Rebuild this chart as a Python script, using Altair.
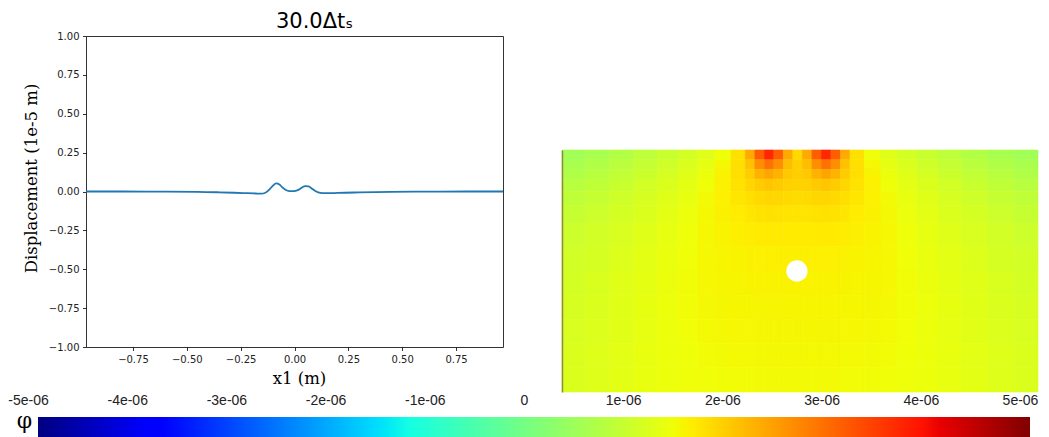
import altair as alt
import pandas as pd

# ---------------- left panel: displacement profile ----------------
X1 = [-0.968, -0.8, -0.6, -0.45, -0.35, -0.28, -0.22, -0.18, -0.155, -0.135,
      -0.115, -0.1, -0.085, -0.07, -0.055, -0.04, -0.025, -0.01, 0.005, 0.02,
      0.035, 0.05, 0.065, 0.08, 0.095, 0.11, 0.13, 0.16, 0.2, 0.3, 0.45, 0.6,
      0.8, 0.968]
DISP = [0.0, 0.0, -0.001, -0.002, -0.005, -0.008, -0.011, -0.013, -0.014, -0.008,
        0.015, 0.038, 0.052, 0.045, 0.025, 0.01, 0.003, 0.002, 0.004, 0.012,
        0.026, 0.035, 0.033, 0.02, 0.005, -0.006, -0.011, -0.011, -0.009, -0.006,
        -0.003, -0.001, 0.0, 0.0]
XLIM = [-0.968, 0.968]
YLIM = [-1.0, 1.0]
XTICKS = [-0.75, -0.5, -0.25, 0.0, 0.25, 0.5, 0.75]
YTICKS = [-1.0, -0.75, -0.5, -0.25, 0.0, 0.25, 0.5, 0.75, 1.0]
TITLE = "30.0\u0394t\u209b"
XLABEL = "x1 (m)"
YLABEL = "Displacement (1e-5 m)"

# ---------------- right panel: field phi (units of 1e-6) ----------------
FIELD_XLIM = [-1.0, 1.0]
FIELD_YLIM = [-1.0, 0.0]
X_EDGES = [-1.0, -0.9, -0.8, -0.7, -0.6, -0.51, -0.43, -0.36, -0.29, -0.23, -0.19,
           -0.15, -0.11, -0.07, -0.03, 0.01, 0.05, 0.09, 0.13, 0.17, 0.21, 0.27,
           0.34, 0.41, 0.49, 0.58, 0.68, 0.79, 0.9, 1.0]
Y_EDGES = [0.0, -0.04, -0.08, -0.12, -0.17, -0.23, -0.3, -0.4, -0.5, -0.6, -0.7,
           -0.8, -0.9, -1.0]
PHI_ROWS = [
    [0.45, 0.55, 0.67, 0.80, 0.93, 1.06, 1.20, 1.40, 1.72, 2.30, 3.10, 3.70, 3.10, 2.30, 1.80,
     2.30, 3.10, 3.70, 3.10, 2.30, 1.72, 1.40, 1.20, 1.06, 0.93, 0.80, 0.67, 0.55, 0.45],
    [0.55, 0.64, 0.76, 0.88, 1.01, 1.14, 1.28, 1.47, 1.74, 2.05, 2.60, 2.90, 2.60, 2.10, 1.90,
     2.10, 2.60, 2.90, 2.60, 2.05, 1.74, 1.47, 1.28, 1.14, 1.01, 0.88, 0.76, 0.64, 0.55],
    [0.64, 0.73, 0.84, 0.96, 1.08, 1.21, 1.35, 1.52, 1.74, 1.94, 2.20, 2.35, 2.20, 1.98, 1.92,
     1.98, 2.20, 2.35, 2.20, 1.94, 1.74, 1.52, 1.35, 1.21, 1.08, 0.96, 0.84, 0.73, 0.64],
    [0.73, 0.82, 0.92, 1.04, 1.15, 1.27, 1.40, 1.55, 1.70, 1.83, 1.94, 2.00, 1.95, 1.89, 1.86,
     1.89, 1.95, 2.00, 1.94, 1.83, 1.70, 1.55, 1.40, 1.27, 1.15, 1.04, 0.92, 0.82, 0.73],
    [0.82, 0.90, 1.00, 1.10, 1.21, 1.32, 1.44, 1.55, 1.66, 1.74, 1.80, 1.83, 1.82, 1.79, 1.77,
     1.79, 1.82, 1.83, 1.80, 1.74, 1.66, 1.55, 1.44, 1.32, 1.21, 1.10, 1.00, 0.90, 0.82],
    [0.90, 0.98, 1.07, 1.16, 1.26, 1.36, 1.46, 1.54, 1.60, 1.66, 1.70, 1.72, 1.71, 1.69, 1.68,
     1.69, 1.71, 1.72, 1.70, 1.66, 1.60, 1.54, 1.46, 1.36, 1.26, 1.16, 1.07, 0.98, 0.90],
    [0.97, 1.04, 1.12, 1.21, 1.30, 1.39, 1.47, 1.52, 1.56, 1.59, 1.61, 1.62, 1.62, 1.61, 1.61,
     1.61, 1.62, 1.62, 1.61, 1.59, 1.56, 1.52, 1.47, 1.39, 1.30, 1.21, 1.12, 1.04, 0.97],
    [1.03, 1.09, 1.17, 1.25, 1.33, 1.41, 1.47, 1.50, 1.52, 1.54, 1.55, 1.56, 1.56, 1.56, 1.56,
     1.56, 1.56, 1.56, 1.55, 1.54, 1.52, 1.50, 1.47, 1.41, 1.33, 1.25, 1.17, 1.09, 1.03],
    [1.07, 1.13, 1.20, 1.28, 1.35, 1.42, 1.47, 1.49, 1.50, 1.51, 1.52, 1.52, 1.52, 1.52, 1.52,
     1.52, 1.52, 1.52, 1.52, 1.51, 1.50, 1.49, 1.47, 1.42, 1.35, 1.28, 1.20, 1.13, 1.07],
    [1.10, 1.15, 1.22, 1.29, 1.36, 1.42, 1.46, 1.48, 1.49, 1.49, 1.50, 1.50, 1.50, 1.50, 1.50,
     1.50, 1.50, 1.50, 1.50, 1.49, 1.49, 1.48, 1.46, 1.42, 1.36, 1.29, 1.22, 1.15, 1.10],
    [1.12, 1.17, 1.23, 1.30, 1.36, 1.41, 1.45, 1.46, 1.47, 1.47, 1.48, 1.48, 1.48, 1.48, 1.48,
     1.48, 1.48, 1.48, 1.48, 1.47, 1.47, 1.46, 1.45, 1.41, 1.36, 1.30, 1.23, 1.17, 1.12],
    [1.14, 1.18, 1.24, 1.31, 1.36, 1.40, 1.43, 1.44, 1.45, 1.45, 1.46, 1.46, 1.46, 1.46, 1.46,
     1.46, 1.46, 1.46, 1.46, 1.45, 1.45, 1.44, 1.43, 1.40, 1.36, 1.31, 1.24, 1.18, 1.14],
    [1.15, 1.19, 1.25, 1.31, 1.36, 1.39, 1.41, 1.42, 1.43, 1.43, 1.44, 1.44, 1.44, 1.44, 1.44,
     1.44, 1.44, 1.44, 1.44, 1.43, 1.43, 1.42, 1.41, 1.39, 1.36, 1.31, 1.25, 1.19, 1.15],
]
HOLE_X = [-0.013]
HOLE_Y = [-0.5]

# ---------------- colour bar ----------------
CBAR_LIMITS = [-5.0, 5.0]          # units of 1e-6
CBAR_TICKS = [-5, -4, -3, -2, -1, 0, 1, 2, 3, 4, 5]
CBAR_TITLE = "\u03c6"
JET_T = [0.0, 0.11, 0.125, 0.34, 0.35, 0.375, 0.64, 0.65, 0.66, 0.89, 0.91, 1.0]
JET_COLORS = ["#000080", "#0000ff", "#0000ff", "#00dbff", "#00e6f7", "#15ffe2",
              "#efff08", "#f7f500", "#ffec00", "#ff1300", "#e80000", "#800000"]

# ---------------- layout (pixels inside the view) ----------------
W, H = 1033, 429
L_XR, L_YR = [78, 495], [339, 28]
F_XR, F_YR = [554, 1030], [384, 142]
C_XR, C_YR = [30, 1022], [431, 409]

line_df = pd.DataFrame({"x1": X1, "disp": DISP})
frame_df = pd.DataFrame({"fx": XLIM, "fy": YLIM})
cells = []
for j, row in enumerate(PHI_ROWS):
    for i, v in enumerate(row):
        cells.append({"x0": X_EDGES[i], "x1": X_EDGES[i + 1],
                      "y0": Y_EDGES[j], "y1": Y_EDGES[j + 1], "phi": v})
cell_df = pd.DataFrame(cells)
hole_df = pd.DataFrame({"hx": HOLE_X, "hy": HOLE_Y})
cbar_df = pd.DataFrame({"lo": [CBAR_LIMITS[0]], "hi": [CBAR_LIMITS[1]], "b": [0.0], "t": [1.0]})

color_domain = [CBAR_LIMITS[0] + (CBAR_LIMITS[1] - CBAR_LIMITS[0]) * t for t in JET_T]
phi_scale = alt.Scale(domain=color_domain, range=JET_COLORS, interpolate="rgb")

tick_style = dict(tickSize=3.5, tickWidth=0.8, tickColor="black", domainColor="black",
                  domainWidth=0.8, labelFont="DejaVu Sans", labelFontSize=10,
                  labelColor="#222222", labelPadding=3.5, grid=False, labelFlush=False,
                  labelOverlap=False, titleFont="DejaVu Serif", titleFontSize=16.5,
                  titleFontWeight="normal", titleColor="black")

line = alt.Chart(line_df).mark_line(color="#1f77b4", strokeWidth=1.8, interpolate="monotone").encode(
    x=alt.X("x1:Q", scale=alt.Scale(domain=XLIM, range=L_XR, nice=False, zero=False),
            axis=alt.Axis(orient="bottom", offset=L_YR[0] - H, values=XTICKS, format=".2f",
                          title=XLABEL, titlePadding=6, titleX=291, **tick_style)),
    y=alt.Y("disp:Q", scale=alt.Scale(domain=YLIM, range=L_YR, nice=False, zero=False),
            axis=alt.Axis(orient="left", offset=-L_XR[0], values=YTICKS, format=".2f",
                          title=YLABEL, titleX=-55, titleY=170, titleAngle=270,
                          titleAlign="center", titleBaseline="middle", **tick_style)),
)

frame = alt.Chart(frame_df).mark_point(opacity=0).encode(
    x=alt.X("fx:Q", scale=alt.Scale(domain=XLIM, range=L_XR, nice=False, zero=False),
            axis=alt.Axis(orient="top", offset=-L_YR[1], ticks=False, labels=False, grid=False,
                          domainColor="black", domainWidth=0.8, title=TITLE,
                          titleFont="DejaVu Sans", titleFontSize=21, titleFontWeight="normal",
                          titleColor="black", titlePadding=5, titleX=306)),
    y=alt.Y("fy:Q", scale=alt.Scale(domain=YLIM, range=L_YR, nice=False, zero=False),
            axis=alt.Axis(orient="right", offset=L_XR[1] - W, ticks=False, labels=False,
                          grid=False, domainColor="black", domainWidth=0.8, title=None)),
)

fx_scale = alt.Scale(domain=FIELD_XLIM, range=F_XR, nice=False, zero=False)
fy_scale = alt.Scale(domain=FIELD_YLIM, range=F_YR, nice=False, zero=False)

heat = alt.Chart(cell_df).mark_rect(strokeWidth=0.6).encode(
    x=alt.X("x0:Q", scale=fx_scale, axis=None),
    x2="x1:Q",
    y=alt.Y("y0:Q", scale=fy_scale,
            axis=alt.Axis(orient="left", offset=-F_XR[0], ticks=False, labels=False, grid=False,
                          domainColor="#8c8c3c", domainWidth=1.5, title=None, zindex=1)),
    y2="y1:Q",
    color=alt.Color("phi:Q", scale=phi_scale, legend=None),
    stroke=alt.Stroke("phi:Q", scale=phi_scale, legend=None),
)

hole = alt.Chart(hole_df).mark_circle(color="white", opacity=1, size=452).encode(
    x=alt.X("hx:Q", scale=fx_scale, axis=None),
    y=alt.Y("hy:Q", scale=fy_scale, axis=None),
)

gradient = alt.LinearGradient(
    gradient="linear",
    stops=[alt.GradientStop(color=c, offset=t) for t, c in zip(JET_T, JET_COLORS)],
    x1=0, x2=1, y1=0, y2=0,
)

cbar = alt.Chart(cbar_df).mark_rect(color=gradient).encode(
    x=alt.X("lo:Q", scale=alt.Scale(domain=CBAR_LIMITS, range=C_XR, nice=False, zero=False),
            axis=alt.Axis(orient="top", offset=-C_YR[1], values=CBAR_TICKS, ticks=False,
                          tickSize=0, domain=False, grid=False, labelFlush=False,
                          labelOverlap=False, labelOffset=-10, labelPadding=10,
                          labelFont="Liberation Sans", labelFontSize=14, labelColor="#222222",
                          labelExpr="datum.value == 0 ? '0' : (datum.value < 0 ? '-' : '') + round(abs(datum.value)) + 'e-06'",
                          title=None)),
    x2="hi:Q",
    y=alt.Y("b:Q", scale=alt.Scale(domain=[0, 1], range=C_YR, nice=False, zero=False),
            axis=alt.Axis(orient="left", offset=-C_XR[0], ticks=False, labels=False,
                          domain=False, grid=False, title=CBAR_TITLE, titleAngle=0,
                          titleFont="DejaVu Serif", titleFontSize=22, titleFontWeight="normal",
                          titleColor="black", titleAlign="center", titleBaseline="middle",
                          titleX=-14, titleY=412)),
    y2="t:Q",
)

chart = alt.layer(heat, hole, cbar, frame, line).resolve_scale(
    x="independent", y="independent"
).properties(
    width=W, height=H, padding=0, background="white",
    autosize=alt.AutoSizeParams(type="none")
).configure_view(stroke="transparent", strokeWidth=0)

chart.save("out.html", embed_options={"renderer": "svg", "actions": False})
